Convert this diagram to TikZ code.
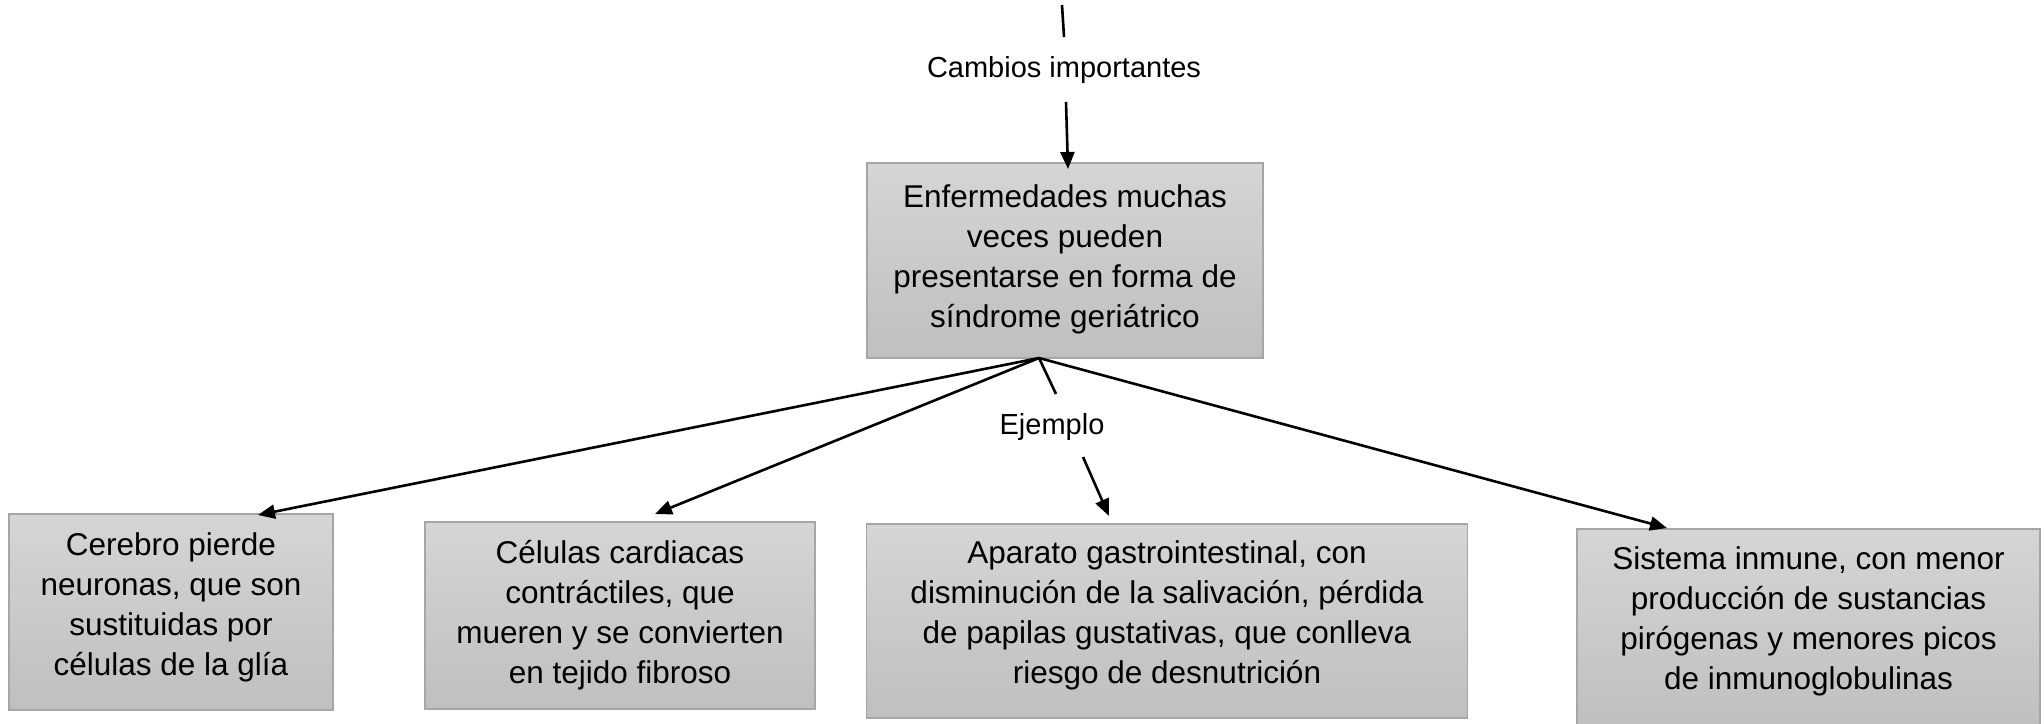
\documentclass[tikz,border=0pt]{standalone}
\usepackage{fontspec}
\setmainfont{Liberation Sans}
\usetikzlibrary{arrows.meta}
\definecolor{boxtop}{RGB}{213,213,213}
\definecolor{boxbot}{RGB}{191,191,191}
\definecolor{boxline}{RGB}{166,166,166}
\tikzset{
  box/.style={draw=boxline, line width=1.2pt, top color=boxtop, bottom color=boxbot,
    rectangle, inner sep=0pt},
  boxtext/.style={inner sep=0pt, align=center,
    font=\fontsize{31.5}{40}\selectfont},
  lbl/.style={inner sep=0pt, font=\fontsize{29}{34}\selectfont},
  conn/.style={line width=2.6pt, black},
  arr/.style={conn, -{Triangle[length=17pt,width=14pt]}}
}
\begin{document}
\begin{tikzpicture}[x=1pt,y=-1pt]
\useasboundingbox (0,0) rectangle (2044,723);
\clip (0,0) rectangle (2044,723);
% boxes
\node[box, minimum width=396pt, minimum height=195pt] (main) at (1065,260.5) {};
\node[boxtext] (maint) at ([yshift=1pt]main.center)
  {Enfermedades muchas\\veces pueden\\presentarse en forma de\\síndrome geriátrico};
\node[box, minimum width=324pt, minimum height=196pt] (b1) at (171,612) {};
\node[boxtext] (b1t) at ([yshift=5pt]b1.center)
  {Cerebro pierde\\neuronas, que son\\sustituidas por\\células de la glía};
\node[box, minimum width=390pt, minimum height=187pt] (b2) at (620,615.5) {};
\node[boxtext] (b2t) at (b2.center)
  {Células cardiacas\\contráctiles, que\\mueren y se convierten\\en tejido fibroso};
\node[box, minimum width=601pt, minimum height=194pt] (b3) at (1167,621) {};
\node[boxtext] (b3t) at ([yshift=6pt]b3.center)
  {Aparato gastrointestinal, con\\disminución de la salivación, pérdida\\de papilas gustativas, que conlleva\\riesgo de desnutrición};
\node[box, minimum width=463pt, minimum height=200pt] (b4) at (1808.5,629) {};
\node[boxtext] (b4t) at ([yshift=8pt]b4.center)
  {Sistema inmune, con menor\\producción de sustancias\\pirógenas y menores picos\\de inmunoglobulinas};
% labels
\node[lbl, anchor=base] (cambios) at (1064,77) {Cambios importantes};
\node[lbl, anchor=base] (ejemplo) at (1052,434) {Ejemplo};
% coordinates
\coordinate (top) at (1062,5);
\coordinate (c1) at (1064,37);
\coordinate (c2) at (1066,102);
\coordinate (src) at (1039,358);
\coordinate (e1) at (1056,394);
\coordinate (e2) at (1083,457);
\coordinate (t1) at (258,515);
\coordinate (t2) at (655,514);
\coordinate (t3) at (1109,516);
\coordinate (t4) at (1667,528);
\coordinate (tm) at (1068,169);
% connectors
\draw[conn] (top) -- (c1);
\draw[arr] (c2) -- (tm);
\draw[arr] (src) -- (t1);
\draw[arr] (src) -- (t2);
\draw[conn] (src) -- (e1);
\draw[arr] (e2) -- (t3);
\draw[arr] (src) -- (t4);
\end{tikzpicture}
\end{document}
